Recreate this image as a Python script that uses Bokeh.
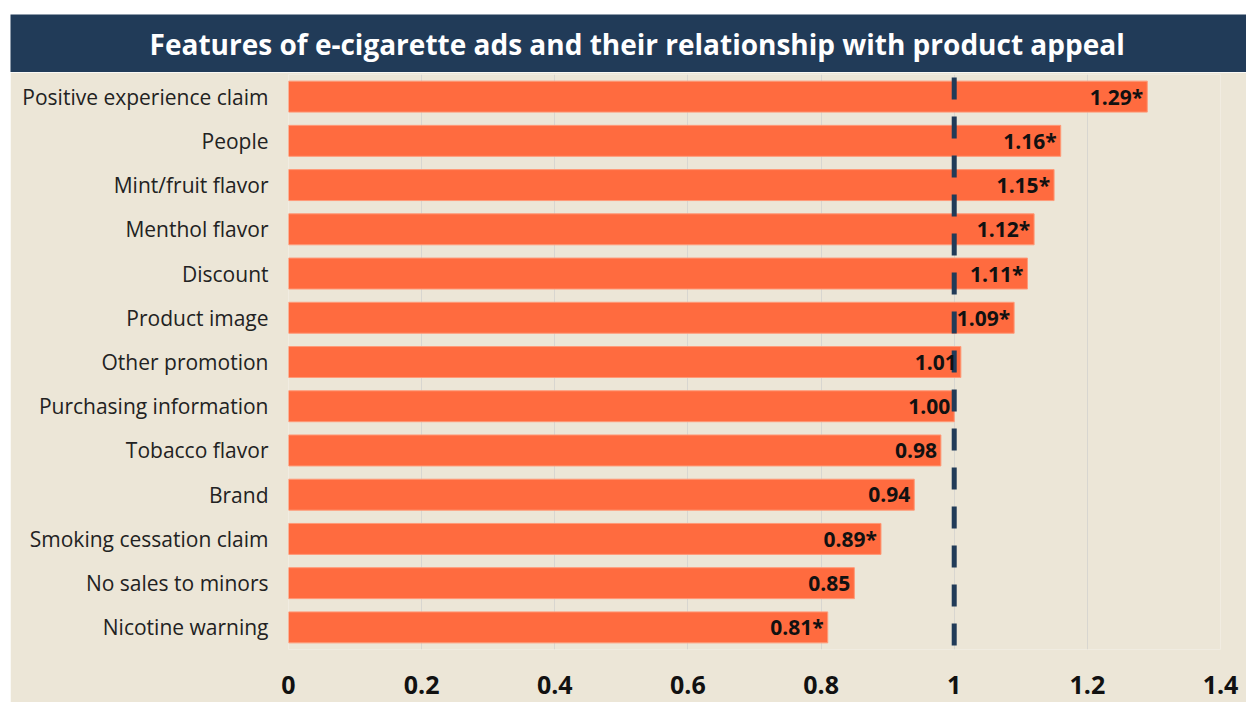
from bokeh.plotting import figure
from bokeh.layouts import column, row, Spacer
from bokeh.models import Range1d, FixedTicker, NumeralTickFormatter, ColumnDataSource
from bokeh.core.properties import value
from bokeh.embed import file_html
from bokeh.resources import INLINE

# ---- data ----
categories = [
    "Positive experience claim", "People", "Mint/fruit flavor", "Menthol flavor",
    "Discount", "Product image", "Other promotion", "Purchasing information",
    "Tobacco flavor", "Brand", "Smoking cessation claim", "No sales to minors",
    "Nicotine warning",
]
values = [1.29, 1.16, 1.15, 1.12, 1.11, 1.09, 1.01, 1.00, 0.98, 0.94, 0.89, 0.85, 0.81]
value_labels = ["1.29*", "1.16*", "1.15*", "1.12*", "1.11*", "1.09*", "1.01", "1.00",
                "0.98", "0.94", "0.89*", "0.85", "0.81*"]
x_ticks = [0, 0.2, 0.4, 0.6, 0.8, 1.0, 1.2, 1.4]
reference_value = 1.0
title_text = "Features of e-cigarette ads and their relationship with product appeal"

NAVY = "#213B58"
BEIGE = "#ECE6D7"
ORANGE = "#FF6B3F"
FONT = "Open Sans"

W = 1236
LEFT, RIGHT = 278, 26

# ---- title band ----
tf = figure(width=W, height=58, x_range=Range1d(0, 1), y_range=Range1d(0, 1),
            toolbar_location=None, output_backend="svg",
            x_axis_location=None, y_axis_location=None,
            background_fill_color=NAVY, border_fill_color=NAVY,
            outline_line_color=None, min_border=0)
tf.grid.visible = False
tf.text(x=[0.507], y=[0.5], text=[title_text], text_align="center",
        text_baseline="middle", text_color="white",
        text_font=value(FONT), text_font_style="bold", text_font_size="28px")

# ---- main chart ----
idx = list(range(len(categories)))
src = ColumnDataSource(dict(y=idx, v=values, lab=value_labels))

p = figure(width=W, height=630, x_range=Range1d(0, 1.4),
           y_range=Range1d(len(categories) - 0.5, -0.5),
           toolbar_location=None, output_backend="svg",
           background_fill_color=BEIGE, border_fill_color=BEIGE,
           outline_line_color=None,
           min_border_left=LEFT, min_border_right=RIGHT,
           min_border_top=2, min_border_bottom=53)

p.hbar(y="y", right="v", left=0, height=0.7, source=src,
       fill_color=ORANGE, line_color="#FF9A78", line_width=1)

p.segment(x0=[reference_value], y0=[-0.43], x1=[reference_value],
          y1=[len(categories) - 0.5], line_color=NAVY, line_width=5,
          line_dash="22 17")

p.text(x="v", y="y", text="lab", source=src, x_offset=-4,
       text_align="right", text_baseline="middle", text_color="#111111",
       text_font=value(FONT), text_font_style="bold", text_font_size="21px")

# x axis
p.xaxis.ticker = FixedTicker(ticks=x_ticks)
p.xaxis.formatter = NumeralTickFormatter(format="0.[0]")
p.xaxis.axis_line_color = None
p.xaxis.major_tick_line_color = None
p.xaxis.minor_tick_line_color = None
p.xaxis.major_label_standoff = 20
p.xaxis.major_label_text_font = FONT
p.xaxis.major_label_text_font_style = "bold"
p.xaxis.major_label_text_font_size = "25px"
p.xaxis.major_label_text_color = "#111111"

# y axis
p.yaxis.ticker = FixedTicker(ticks=idx)
p.yaxis.major_label_overrides = {i: c for i, c in zip(idx, categories)}
p.yaxis.axis_line_color = None
p.yaxis.major_tick_line_color = None
p.yaxis.minor_tick_line_color = None
p.yaxis.major_label_standoff = 14
p.yaxis.major_label_text_font = FONT
p.yaxis.major_label_text_font_style = "normal"
p.yaxis.major_label_text_font_size = "21px"
p.yaxis.major_label_text_color = "#222222"

p.xgrid.ticker = FixedTicker(ticks=x_ticks)
p.xgrid.grid_line_color = "#D8D6D0"
p.xgrid.grid_line_width = 1
p.ygrid.grid_line_color = None

layout = column(Spacer(height=14),
                row(Spacer(width=10), tf, spacing=0),
                row(Spacer(width=10), p, spacing=0),
                spacing=0)
open("out.html", "w").write(file_html(layout, INLINE))
